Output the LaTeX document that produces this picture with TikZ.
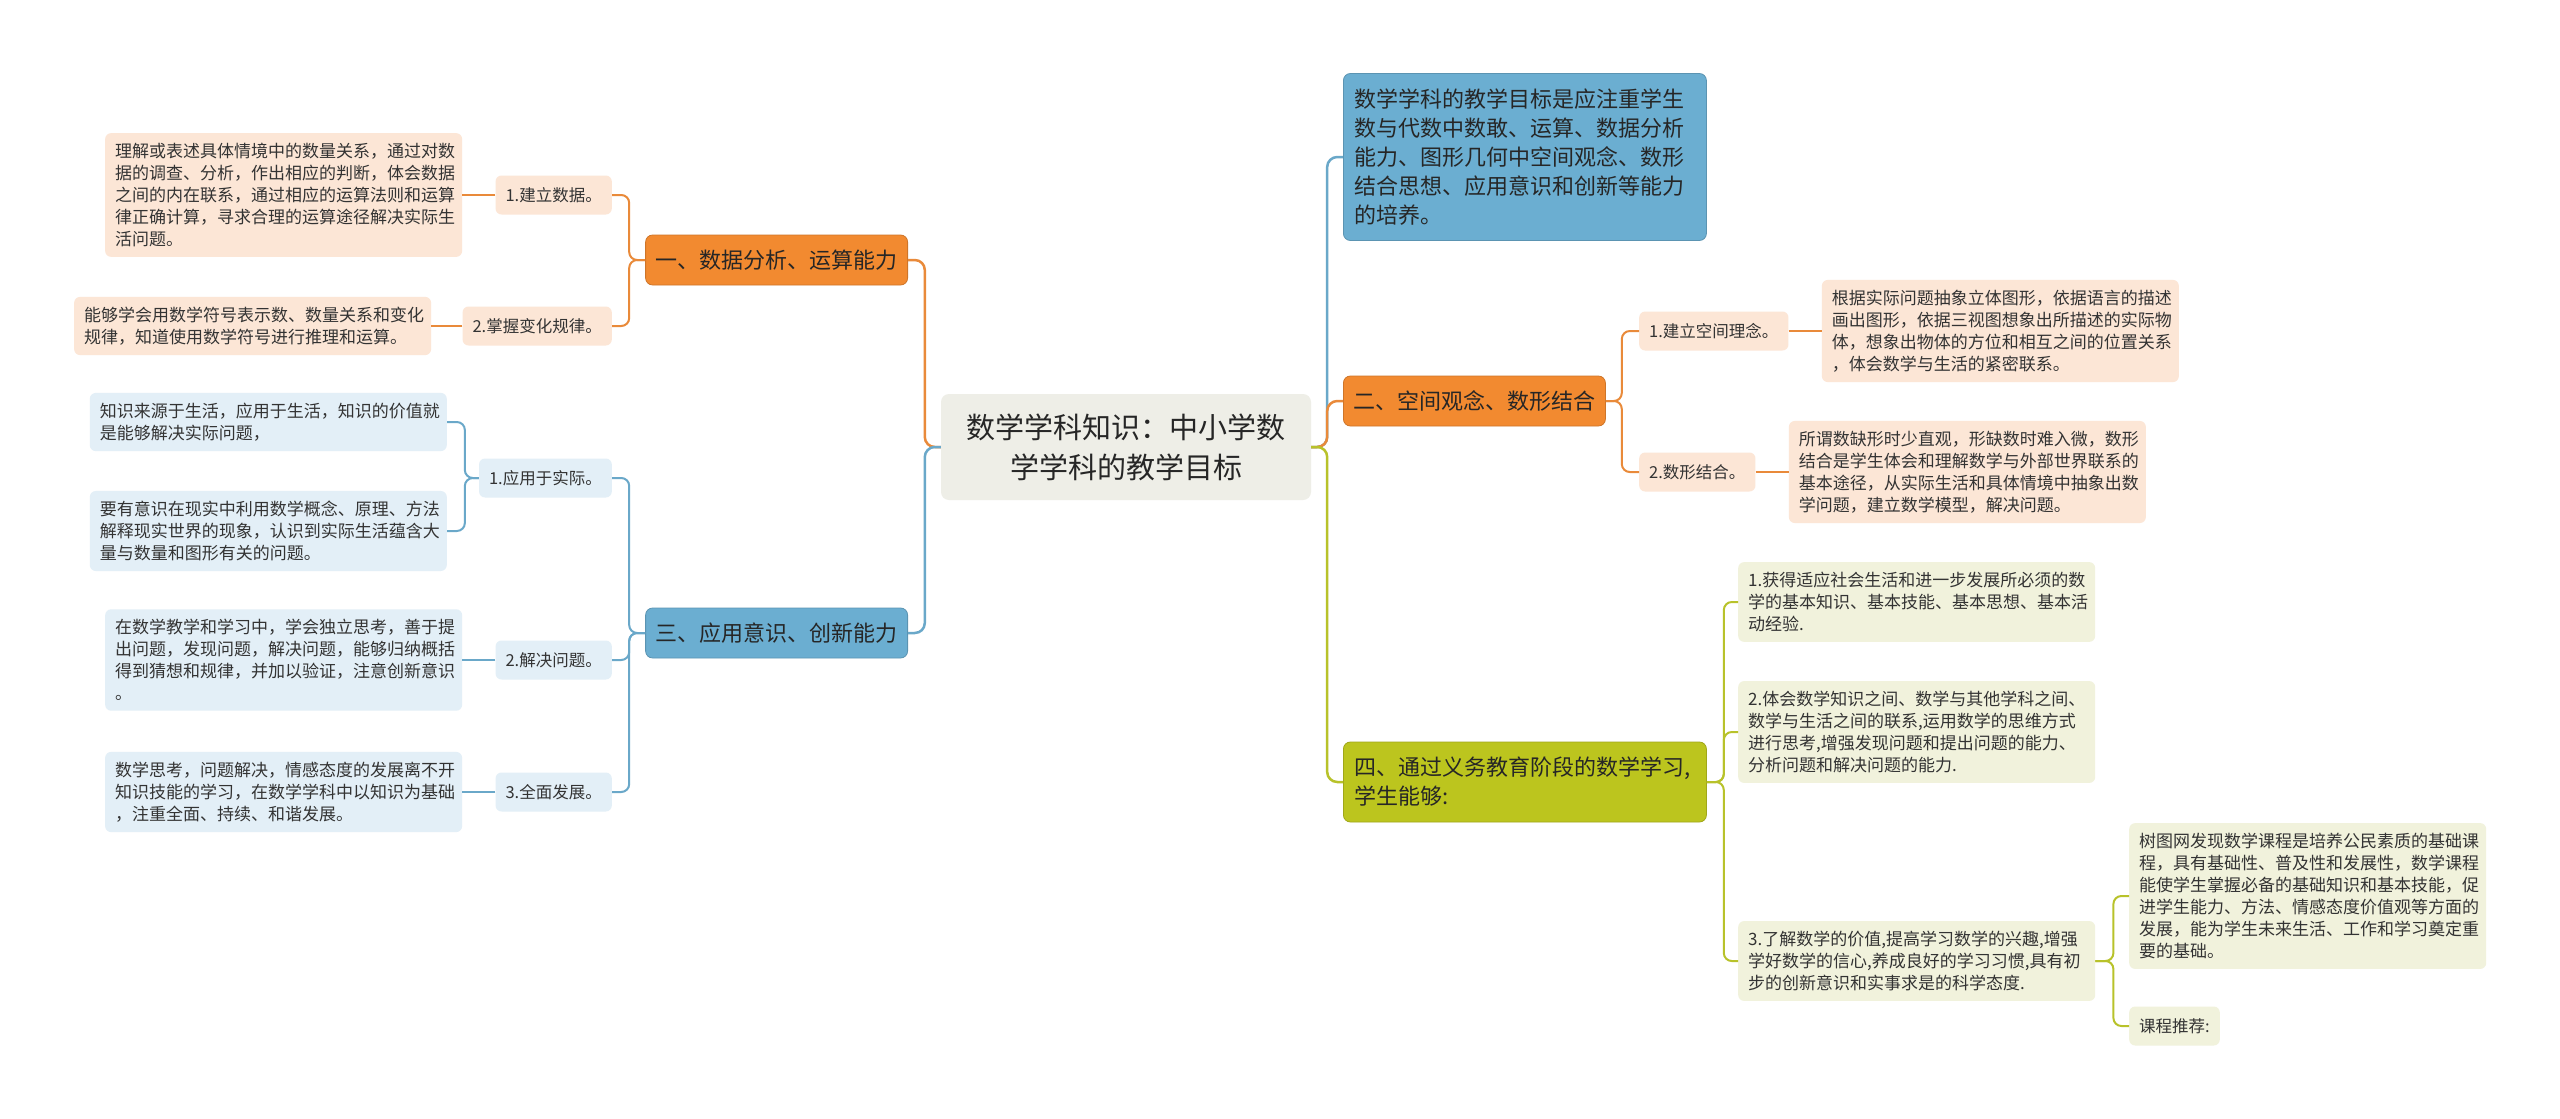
\documentclass[tikz,border=0pt]{standalone}
\usepackage{fontspec}
\setmainfont{Noto Sans CJK SC}
\usetikzlibrary{positioning}

\definecolor{rootgray}{HTML}{EEEEE7}
\definecolor{orangefill}{HTML}{F28A30}
\definecolor{bluefill}{HTML}{6BAED1}
\definecolor{greenfill}{HTML}{BCC51E}
\definecolor{orangelight}{HTML}{FCE6D6}
\definecolor{bluelight}{HTML}{E3EFF7}
\definecolor{greenlight}{HTML}{F1F2DC}
\definecolor{orangeline}{HTML}{E98A3A}
\definecolor{blueline}{HTML}{6AA8C9}
\definecolor{greenline}{HTML}{B8C22A}
\definecolor{textdark}{HTML}{333333}

\begin{document}
\begin{tikzpicture}[
    x=1pt, y=-1pt,
    mainidea/.style={rectangle, fill=rootgray, rounded corners=8pt, minimum width=370pt, minimum height=106pt, align=center, text=black!85, font=\fontsize{29}{40}\selectfont},
    topic/.style={rectangle, draw=#1!85!black, fill=#1, line width=0.8pt, rounded corners=7pt, inner xsep=10pt, minimum height=50pt, text=black!85, font=\fontsize{22}{29}\selectfont},
    widetopic/.style={topic=#1, text width=341pt, inner xsep=11pt, align=left},
    subtopic/.style={rectangle, fill=#1, rounded corners=6pt, inner xsep=10pt, minimum height=39pt, text=textdark, font=\fontsize{16.5}{20}\selectfont},
    detail/.style={rectangle, fill=#1, rounded corners=6pt, text width=337pt, inner xsep=10pt, inner ysep=10pt, align=left, text=textdark, font=\fontsize{17}{22}\selectfont},
    trunk/.style={draw=#1, line width=2.5pt, rounded corners=10pt},
    twig/.style={draw=#1, line width=2pt, rounded corners=8pt}
]
    \useasboundingbox (0,0) rectangle (2560,1119);
    \fill[white] (0,0) rectangle (2560,1119);

    % Centre
    \node[mainidea] (root) at (1126,447) {数学学科知识：中小学数\\学学科的教学目标};

    % Left side: topics and subtopics
    \node[topic=orangefill, anchor=east] (dat) at (908,260) {一、数据分析、运算能力};
    \node[topic=bluefill, anchor=east] (app) at (908,633) {三、应用意识、创新能力};

    \node[subtopic=orangelight, anchor=east] (dat1) at (612,195) {1.建立数据。};
    \node[subtopic=orangelight, anchor=east] (dat2) at (612,326) {2.掌握变化规律。};
    \node[subtopic=bluelight, anchor=east] (app1) at (612,478) {1.应用于实际。};
    \node[subtopic=bluelight, anchor=east] (app2) at (612,660) {2.解决问题。};
    \node[subtopic=bluelight, anchor=east] (app3) at (612,792) {3.全面发展。};

    % Left side: details
    \node[detail=orangelight, left=33pt of dat1] (dat1t) {理解或表述具体情境中的数量关系，通过对数\\据的调查、分析，作出相应的判断，体会数据\\之间的内在联系，通过相应的运算法则和运算\\律正确计算，寻求合理的运算途径解决实际生\\活问题。};
    \node[detail=orangelight, left=31pt of dat2] (dat2t) {能够学会用数学符号表示数、数量关系和变化\\规律，知道使用数学符号进行推理和运算。};
    \node[detail=bluelight, anchor=east] (app1a) at (447,422) {知识来源于生活，应用于生活，知识的价值就\\是能够解决实际问题，};
    \node[detail=bluelight, anchor=east] (app1b) at (447,531) {要有意识在现实中利用数学概念、原理、方法\\解释现实世界的现象，认识到实际生活蕴含大\\量与数量和图形有关的问题。};
    \node[detail=bluelight, left=33pt of app2] (app2t) {在数学教学和学习中，学会独立思考，善于提\\出问题，发现问题，解决问题，能够归纳概括\\得到猜想和规律，并加以验证，注意创新意识\\。};
    \node[detail=bluelight, left=33pt of app3] (app3t) {数学思考，问题解决，情感态度的发展离不开\\知识技能的学习，在数学学科中以知识为基础\\，注重全面、持续、和谐发展。};

    % Right side: topics
    \node[widetopic=bluefill, anchor=west, minimum height=167pt] (aim) at (1343,157) {数学学科的教学目标是应注重学生\\数与代数中数敢、运算、数据分析\\能力、图形几何中空间观念、数形\\结合思想、应用意识和创新等能力\\的培养。};
    \node[topic=orangefill, anchor=west] (spa) at (1343,401) {二、空间观念、数形结合};
    \node[widetopic=greenfill, anchor=west, minimum height=80pt] (stu) at (1343,782) {四、通过义务教育阶段的数学学习,\\学生能够:};

    % Right side: subtopics and details
    \node[subtopic=orangelight, anchor=west] (spa1) at (1639,331) {1.建立空间理念。};
    \node[subtopic=orangelight, anchor=west] (spa2) at (1639,472) {2.数形结合。};
    \node[detail=orangelight, right=33pt of spa1] (spa1t) {根据实际问题抽象立体图形，依据语言的描述\\画出图形，依据三视图想象出所描述的实际物\\体，想象出物体的方位和相互之间的位置关系\\，体会数学与生活的紧密联系。};
    \node[detail=orangelight, right=33pt of spa2] (spa2t) {所谓数缺形时少直观，形缺数时难入微，数形\\结合是学生体会和理解数学与外部世界联系的\\基本途径，从实际生活和具体情境中抽象出数\\学问题，建立数学模型，解决问题。};

    \node[detail=greenlight, anchor=west] (stu1) at (1738,602) {1.获得适应社会生活和进一步发展所必须的数\\学的基本知识、基本技能、基本思想、基本活\\动经验.};
    \node[detail=greenlight, anchor=west] (stu2) at (1738,732) {2.体会数学知识之间、数学与其他学科之间、\\数学与生活之间的联系,运用数学的思维方式\\进行思考,增强发现问题和提出问题的能力、\\分析问题和解决问题的能力.};
    \node[detail=greenlight, anchor=west] (stu3) at (1738,961) {3.了解数学的价值,提高学习数学的兴趣,增强\\学好数学的信心,养成良好的学习习惯,具有初\\步的创新意识和实事求是的科学态度.};
    \node[detail=greenlight, anchor=west] (stu3a) at (2129,896) {树图网发现数学课程是培养公民素质的基础课\\程，具有基础性、普及性和发展性，数学课程\\能使学生掌握必备的基础知识和基本技能，促\\进学生能力、方法、情感态度价值观等方面的\\发展，能为学生未来生活、工作和学习奠定重\\要的基础。};
    \node[subtopic=greenlight, anchor=west] (stu3b) at (2129,1026) {课程推荐:};

    % Connections from the centre
    \draw[trunk=orangeline] (root.west) -- ++(-16,0) |- (dat.east);
    \draw[trunk=blueline] (root.west) -- ++(-16,0) |- (app.east);
    \draw[trunk=blueline] (root.east) -- ++(16,0) |- (aim.west);
    \draw[trunk=orangeline] (root.east) -- ++(16,0) |- (spa.west);
    \draw[trunk=greenline] (root.east) -- ++(16,0) |- (stu.west);

    % Connections to subtopics
    \foreach \s in {dat1,dat2} \draw[twig=orangeline] (dat.west) -- ++(-16,0) |- (\s.east);
    \foreach \s in {app1,app2,app3} \draw[twig=blueline] (app.west) -- ++(-16,0) |- (\s.east);
    \foreach \s in {spa1,spa2} \draw[twig=orangeline] (spa.east) -- ++(16,0) |- (\s.west);
    \foreach \s in {stu1,stu2,stu3} \draw[twig=greenline] (stu.east) -- ++(17,0) |- (\s.west);
    \foreach \s in {stu3a,stu3b} \draw[twig=greenline] (stu3.east) -- ++(18,0) |- (\s.west);
    \foreach \s in {app1a,app1b} \draw[twig=blueline] (app1.west) -- ++(-14,0) |- (\s.east);

    % Connections to details
    \draw[twig=orangeline] (dat1.west) -- (dat1t.east);
    \draw[twig=orangeline] (dat2.west) -- (dat2t.east);
    \draw[twig=blueline] (app2.west) -- (app2t.east);
    \draw[twig=blueline] (app3.west) -- (app3t.east);
    \draw[twig=orangeline] (spa1.east) -- (spa1t.west);
    \draw[twig=orangeline] (spa2.east) -- (spa2t.west);
\end{tikzpicture}
\end{document}
